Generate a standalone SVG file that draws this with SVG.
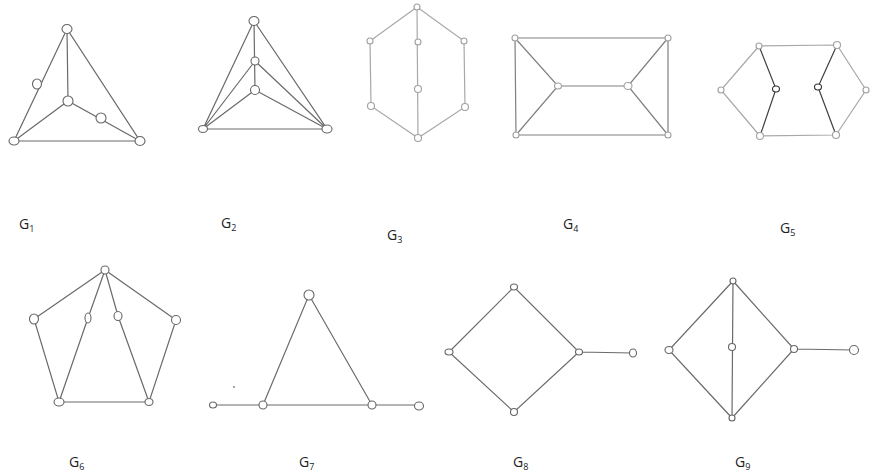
<svg xmlns="http://www.w3.org/2000/svg" width="870" height="476" viewBox="0 0 870 476">
<style>
.e{stroke:#6a6a6a;stroke-width:1.2;fill:none}
.l{stroke:#a8a8a8}
.m{stroke:#808080}
.d{stroke:#404040}
.n{fill:#fff;stroke:#666;stroke-width:1.1}
.nl{fill:#fff;stroke:#a0a0a0;stroke-width:1.1}
.t{font-family:"Open Sans","Liberation Sans",sans-serif;font-size:14px;fill:#222}
.s{font-size:9px}
</style>
<rect width="870" height="476" fill="#fff"/>
<g id="connectors">
<path class="e" d="M67,29 L14,141 L140,141 Z M67,29 L68,101 M14,141 L68,101 L140,141"/>
<path class="e" d="M254,21 L203,129 L327,129 Z M254,21 L255,90 M255,61 L203,129 M255,61 L327,129 M255,90 L203,129 M255,90 L327,129"/>
<path class="e l" d="M417,7 L370,41 L371,106 L418,138 L465,107 L464,41 Z M417,7 L418,138"/>
<path class="e m" d="M515,38 L668,38 L668,135 L516,135 Z M515,38 L558,86 L516,135 M558,86 L628,86 M668,38 L628,86 L668,135"/>
<path class="e l" d="M759,46 L837,45 M760,136 L836,135 M759,46 L721,90 L760,136 M837,45 L866,90 L836,135"/>
<path class="e d" d="M759,46 L776,89 L760,136 M837,45 L818,87 L836,135"/>
<path class="e" d="M105,270 L34,319 L59,402 L149,402 L176,320 Z M105,270 L88,318 L59,402 M105,270 L118,316 L149,402"/>
<path class="e" d="M263,405 L309,295 L372,405 M213,405 L419,405"/>
<path class="e" d="M514,287 L449,352 L514,412 L579,352 Z M579,352 L633,353"/>
<path class="e" d="M733,281 L669,350 L732,418 L794,349 Z M733,281 L732,418 M794,349 L854,350"/>
</g>
<g id="G1">
<ellipse class="n" cx="67" cy="29" rx="5" ry="4.5"/>
<ellipse class="n" cx="37" cy="84" rx="4.5" ry="5"/>
<ellipse class="n" cx="68" cy="101" rx="5" ry="5"/>
<ellipse class="n" cx="101" cy="118" rx="5" ry="5"/>
<ellipse class="n" cx="14" cy="141" rx="5" ry="4"/>
<ellipse class="n" cx="140" cy="141" rx="5" ry="4.5"/>
<text class="t" x="19" y="229">G<tspan class="s" dy="3">1</tspan></text>
</g>
<g id="G2">
<ellipse class="n" cx="254" cy="21" rx="5" ry="4.5"/>
<ellipse class="n" cx="255" cy="61" rx="4" ry="4"/>
<ellipse class="n" cx="255" cy="90" rx="4.5" ry="4.5"/>
<ellipse class="n" cx="203" cy="129" rx="4.5" ry="3.5"/>
<ellipse class="n" cx="327" cy="129" rx="5" ry="4"/>
<text class="t" x="221" y="228">G<tspan class="s" dy="3">2</tspan></text>
</g>
<g id="G3">
<circle class="nl" cx="417" cy="7" r="3"/>
<circle class="nl" cx="370" cy="41" r="3"/>
<circle class="nl" cx="464" cy="41" r="3"/>
<circle class="nl" cx="418" cy="42" r="3"/>
<circle class="nl" cx="418" cy="89" r="3.5"/>
<circle class="nl" cx="371" cy="106" r="3.5"/>
<circle class="nl" cx="465" cy="107" r="3.5"/>
<circle class="nl" cx="418" cy="138" r="3.5"/>
<text class="t" x="387" y="240">G<tspan class="s" dy="3">3</tspan></text>
</g>
<g id="G4">
<circle class="nl" cx="515" cy="38" r="3"/>
<circle class="nl" cx="668" cy="38" r="3"/>
<circle class="nl" cx="516" cy="135" r="3"/>
<circle class="nl" cx="668" cy="135" r="3"/>
<ellipse class="nl" cx="558" cy="86" rx="3.5" ry="3"/>
<ellipse class="nl" cx="628" cy="86" rx="4" ry="3.5"/>
<text class="t" x="563" y="229">G<tspan class="s" dy="3">4</tspan></text>
</g>
<g id="G5">
<circle class="nl" cx="759" cy="46" r="3"/>
<circle class="nl" cx="837" cy="45" r="3.5"/>
<circle class="nl" cx="721" cy="90" r="3"/>
<circle class="nl" cx="866" cy="90" r="3"/>
<circle class="nl" cx="760" cy="136" r="3.5"/>
<circle class="nl" cx="836" cy="135" r="3.5"/>
<ellipse class="n" cx="776" cy="89" rx="3.5" ry="3" style="stroke:#333"/>
<ellipse class="n" cx="818" cy="87" rx="3.5" ry="3" style="stroke:#333"/>
<text class="t" x="780" y="233">G<tspan class="s" dy="3">5</tspan></text>
</g>
<g id="G6">
<ellipse class="n" cx="105" cy="270" rx="4" ry="4"/>
<ellipse class="n" cx="34" cy="319" rx="4.5" ry="5"/>
<ellipse class="n" cx="176" cy="320" rx="4.5" ry="4.5"/>
<ellipse class="n" cx="88" cy="318" rx="3" ry="5"/>
<ellipse class="n" cx="118" cy="316" rx="4" ry="4.5"/>
<ellipse class="n" cx="59" cy="402" rx="5" ry="4"/>
<ellipse class="n" cx="149" cy="402" rx="4" ry="3.5"/>
<text class="t" x="69" y="467">G<tspan class="s" dy="3">6</tspan></text>
</g>
<g id="G7">
<ellipse class="n" cx="309" cy="295" rx="5" ry="5"/>
<ellipse class="n" cx="263" cy="405" rx="4" ry="4"/>
<ellipse class="n" cx="372" cy="405" rx="4" ry="4"/>
<ellipse class="n" cx="213" cy="405" rx="3.5" ry="3"/>
<ellipse class="n" cx="419" cy="406" rx="4.5" ry="4"/>
<circle cx="234" cy="387" r="0.9" fill="#777"/>
<text class="t" x="299" y="467">G<tspan class="s" dy="3">7</tspan></text>
</g>
<g id="G8">
<ellipse class="n" cx="514" cy="287" rx="3.5" ry="3"/>
<ellipse class="n" cx="449" cy="352" rx="4" ry="3"/>
<ellipse class="n" cx="579" cy="352" rx="3.5" ry="3"/>
<ellipse class="n" cx="514" cy="412" rx="3.5" ry="3.5"/>
<ellipse class="n" cx="633" cy="353" rx="3.5" ry="4"/>
<text class="t" x="513" y="467">G<tspan class="s" dy="3">8</tspan></text>
</g>
<g id="G9">
<ellipse class="n" cx="733" cy="281" rx="3" ry="3"/>
<ellipse class="n" cx="669" cy="350" rx="4" ry="3.5"/>
<ellipse class="n" cx="732" cy="347" rx="3.5" ry="3.5"/>
<ellipse class="n" cx="794" cy="349" rx="3.5" ry="3.5"/>
<ellipse class="n" cx="732" cy="418" rx="3" ry="3"/>
<ellipse class="n" cx="854" cy="350" rx="4.5" ry="4.5"/>
<text class="t" x="735" y="467">G<tspan class="s" dy="3">9</tspan></text>
</g>
</svg>
